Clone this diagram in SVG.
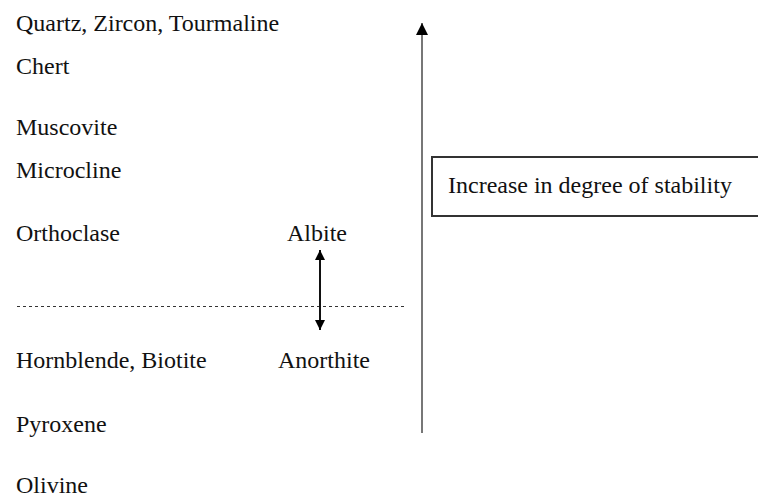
<svg xmlns="http://www.w3.org/2000/svg" width="758" height="498" viewBox="0 0 758 498">
<style>
text{font-family:"Liberation Serif","Times New Roman",serif;font-size:24px;fill:#111}
.dot{stroke:#333;stroke-width:1;stroke-dasharray:3 3;fill:none}
.main{stroke:#777;stroke-width:2;fill:none}
.dbl{stroke:#111;stroke-width:2;fill:none}
.box{stroke:#333;stroke-width:2;fill:#fff}
</style>
<defs>
<marker id="ah" viewBox="0 0 10 10" refX="10" refY="5" markerWidth="6" markerHeight="6" orient="auto-start-reverse" markerUnits="strokeWidth"><path d="M0,0 L10,5 L0,10 z" fill="#000"/></marker>
<marker id="ah2" viewBox="0 0 10 10" refX="10" refY="5" markerWidth="5" markerHeight="5" orient="auto-start-reverse" markerUnits="strokeWidth"><path d="M0,0 L10,5 L0,10 z" fill="#000"/></marker>
</defs>
<g id="minerals">
<text id="quartz" x="16" y="31">Quartz, Zircon, Tourmaline</text>
<text id="chert" x="16" y="74">Chert</text>
<text id="muscovite" x="16" y="135">Muscovite</text>
<text id="microcline" x="16" y="178">Microcline</text>
<text id="orthoclase" x="16" y="241">Orthoclase</text>
<text id="albite" x="287" y="241">Albite</text>
<text id="hornblende" x="16" y="368">Hornblende, Biotite</text>
<text id="anorthite" x="278" y="368">Anorthite</text>
<text id="pyroxene" x="16" y="432">Pyroxene</text>
<text id="olivine" x="16" y="493">Olivine</text>
</g>
<g id="stability">
<rect x="432" y="157" width="340" height="59" class="box"/>
<text x="448" y="193">Increase in degree of stability</text>
</g>
<g id="connectors">
<line class="dot" x1="17" y1="306.5" x2="405" y2="306.5"/>
<line class="main" x1="422" y1="433" x2="422" y2="23" marker-end="url(#ah)"/>
<line class="dbl" x1="320" y1="250" x2="320" y2="330" marker-start="url(#ah2)" marker-end="url(#ah2)"/>
</g>
</svg>
